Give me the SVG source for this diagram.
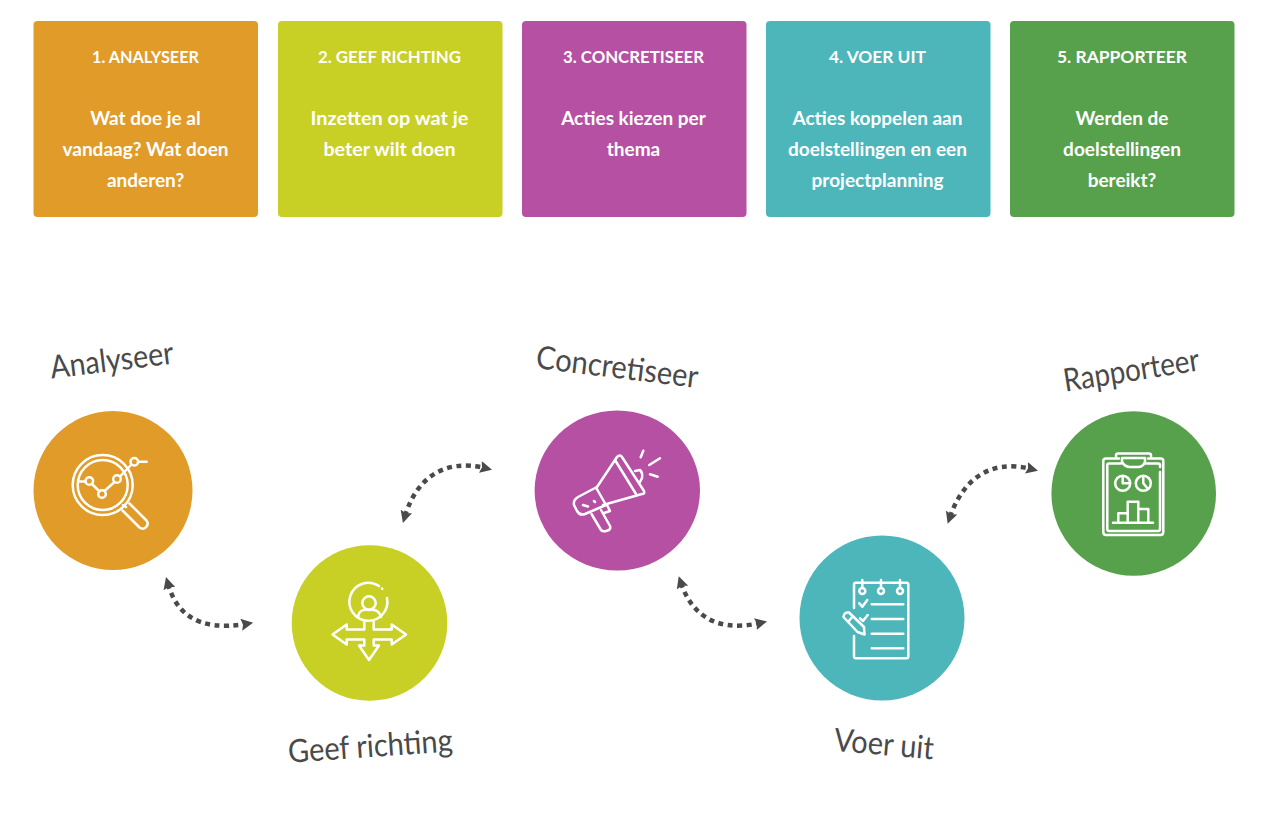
<svg xmlns="http://www.w3.org/2000/svg" width="1280" height="826" viewBox="0 0 1280 826">
<style>
.t{font-family:"Lato","Liberation Sans",sans-serif;font-weight:700;font-size:19px;fill:#fff;text-anchor:middle}
.n{font-size:17px}
.h{font-family:"Lato","Liberation Sans",sans-serif;font-weight:400;font-size:32px;fill:#4a4a4a;text-anchor:middle}
.i{fill:none;stroke:#fff;stroke-width:2.5;stroke-linecap:round;stroke-linejoin:round}
.c{fill:none;stroke:#4a4a4a;stroke-width:4.500;stroke-dasharray:5 4.500;marker-start:url(#ah);marker-end:url(#ah)}
</style>
<defs>
<marker id="ah" viewBox="0 0 10 10" refX="4" refY="5" markerUnits="userSpaceOnUse" markerWidth="12" markerHeight="12" orient="auto-start-reverse"><path d="M0 0L10 5L0 10L1.500 5Z" fill="#4a4a4a"/></marker>
</defs>
<rect width="1280" height="826" fill="#fff"/>

<g id="card1"><rect x="33.500" y="21" width="224.500" height="196" rx="4" fill="#e09b29"/>
<text class="t n" x="145.500" y="63" textLength="107" lengthAdjust="spacingAndGlyphs">1. ANALYSEER</text><text class="t" x="145.500" y="125">Wat doe je al</text><text class="t" x="145.500" y="156">vandaag? Wat doen</text><text class="t" x="145.500" y="187">anderen?</text></g>
<g id="card2"><rect x="278" y="21" width="224.500" height="196" rx="4" fill="#c8d026"/>
<text class="t n" x="389.500" y="63" textLength="143" lengthAdjust="spacingAndGlyphs">2. GEEF RICHTING</text><text class="t" x="389.500" y="125" textLength="158" lengthAdjust="spacingAndGlyphs">Inzetten op wat je</text><text class="t" x="389.500" y="156" textLength="132" lengthAdjust="spacingAndGlyphs">beter wilt doen</text></g>
<g id="card3"><rect x="522" y="21" width="224.500" height="196" rx="4" fill="#b650a2"/>
<text class="t n" x="633.500" y="63" textLength="141" lengthAdjust="spacingAndGlyphs">3. CONCRETISEER</text><text class="t" x="633.500" y="125">Acties kiezen per</text><text class="t" x="633.500" y="156">thema</text></g>
<g id="card4"><rect x="766" y="21" width="224.500" height="196" rx="4" fill="#4db6ba"/>
<text class="t n" x="877.500" y="63" textLength="97" lengthAdjust="spacingAndGlyphs">4. VOER UIT</text><text class="t" x="877.500" y="125">Acties koppelen aan</text><text class="t" x="877.500" y="156">doelstellingen en een</text><text class="t" x="877.500" y="187">projectplanning</text></g>
<g id="card5"><rect x="1010" y="21" width="224.500" height="196" rx="4" fill="#58a14c"/>
<text class="t n" x="1122" y="63" textLength="130" lengthAdjust="spacingAndGlyphs">5. RAPPORTEER</text><text class="t" x="1122" y="125">Werden de</text><text class="t" x="1122" y="156">doelstellingen</text><text class="t" x="1122" y="187">bereikt?</text></g>

<g id="connectors">
<path class="c" d="M168 584C176 612 196 632 246 624"/>
<path class="c" d="M405 516C416 480 442 458 485 468"/>
<path class="c" d="M681 583C690 610 712 634 760 623"/>
<path class="c" d="M950 517C962 482 988 458 1031 469"/>
</g>

<g id="step1"><circle cx="113" cy="490.500" r="79.500" fill="#e09b29"/>
<circle class="i" cx="102.700" cy="485" r="30"/><circle class="i" cx="102.700" cy="485" r="25"/>
<path class="i" d="M123 505L126 507M129.500 503.500L146.500 520.500A5 5 0 0 1 139.500 527.500L122.500 510.500M79.300 481.500H85.500M92 484L99.500 491.500M104.500 491L114.500 482M120 476.500L131.500 464.500M138 461.700H146.700"/>
<g class="i"><circle cx="89.300" cy="481" r="3.800"/><circle cx="102" cy="494" r="3.800"/><circle cx="117" cy="479" r="3.800"/><circle cx="134.300" cy="461.700" r="3.800"/></g>
<text class="h" transform="translate(113 371) rotate(-7)" textLength="124" lengthAdjust="spacingAndGlyphs">Analyseer</text></g>

<g id="step2"><circle cx="369.500" cy="623" r="77.800" fill="#c8d026"/>
<path class="i" d="M387 598A19 19 0 1 1 379 586"/><path class="i" d="M382 588.500L382.300 588.800"/>
<circle class="i" cx="369" cy="603" r="6.700"/>
<path class="i" d="M358 617C359 610 364 609 369 610C374 609 379 610 381 617"/>
<path class="i" d="M364.300 622V629.500H346.700V624.500L332.500 634.500L346.700 644.500V639.500H364.300V645.500H359L369 660L379 645.500H373.700V639.500H391.700V644.500L406 634.500L391.700 624.500V629.500H373.700V622"/>
<text class="h" transform="translate(371 757) rotate(-4)" textLength="165" lengthAdjust="spacingAndGlyphs">Geef richting</text></g>

<g id="step3"><ellipse cx="617.300" cy="490.500" rx="82.700" ry="80" fill="#b650a2"/>
<path class="i" d="M597 487L617 457Q620 454 622 457L644 491Q645 494 642 494L603 505"/>
<path class="i" d="M578 497L596 487.500L606 505L585 514Q580 516 577 511L574 505Q573 500 578 497Z"/>
<path class="i" d="M591.500 514L601 530Q603 532 606 531L609 530Q611 528 610 526L601 510"/>
<path class="i" d="M615 460L636 494M635 471L640 470Q643 473 642 478L640 482"/>
<path class="i" d="M583 505L588 506.500M594 501L595 502M607 505L610 511L604 513"/>
<path class="i" d="M640.700 457.300L643.300 450.700M649.300 465L660 458.300M650 474.300L657.700 476.700"/>
<text class="h" transform="translate(616 378) rotate(7)" textLength="163" lengthAdjust="spacingAndGlyphs">Concretiseer</text></g>

<g id="step4"><circle cx="882" cy="618" r="82.500" fill="#4db6ba"/>
<path class="i" d="M854 608V584.500Q854 582.700 856 582.700H906.500Q908.300 582.700 908.300 584.500V656.500Q908.300 658.300 906.500 658.300H856Q854 658.300 854 656.500V636"/>
<g class="i"><circle cx="862.300" cy="591" r="3"/><circle cx="881" cy="591" r="3"/><circle cx="900" cy="591" r="3"/></g>
<path class="i" d="M862.300 580V588M881 580V588M900 580V588M871.700 604.300H903.300M871.700 619H903.300M871.700 633.700H903.300M871.700 648.300H903.300M859.300 603.300L862.300 606.700L867.300 600M860 618.300L863 621L867.700 615"/>
<path class="i" d="M843.500 617Q844 612 849 612.500L864 627L864.500 634.500L857.500 632ZM848 622L853 616"/>
<text class="h" transform="translate(883 755) rotate(5)" textLength="100" lengthAdjust="spacingAndGlyphs">Voer uit</text></g>

<g id="step5"><circle cx="1133.700" cy="493.500" r="82.300" fill="#58a14c"/>
<path class="i" d="M1119 458.500H1106Q1103.300 458.500 1103.300 461V532Q1103.300 535 1106 535H1160.500Q1163.300 535 1163.300 532V461Q1163.300 458.500 1160.500 458.500H1148"/>
<path class="i" d="M1121 463.500H1109Q1107.300 463.500 1107.300 465V529Q1107.300 531 1109 531H1158Q1160 531 1160 529V472M1160 467V465Q1160 463.500 1158 463.500H1146"/>
<path class="i" d="M1116 457V455.500Q1116 453.500 1118 453.500H1149Q1151 453.500 1151 455.500V457M1122 458V462Q1125 467 1130 467H1138Q1143 467 1145 462V458H1122"/>
<circle class="i" cx="1122.700" cy="483.300" r="7.500"/><circle class="i" cx="1143.300" cy="483.300" r="7.500"/>
<path class="i" d="M1122.700 476V483.300H1130M1143.300 476V483.300L1148 489"/>
<path class="i" d="M1113 522.700H1153M1118.300 522.700V513.300H1127.700M1127.700 522.700V501.700H1138.300V522.700M1138.300 509H1148.300V522.700"/>
<text class="h" transform="translate(1133 381) rotate(-9)" textLength="137" lengthAdjust="spacingAndGlyphs">Rapporteer</text></g>
</svg>
